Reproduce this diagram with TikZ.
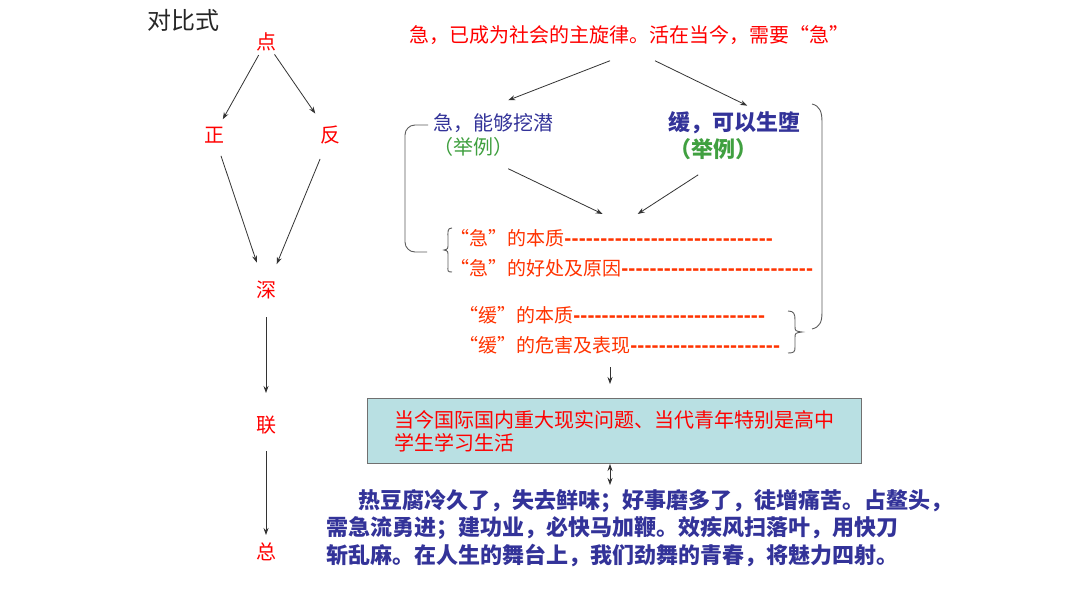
\documentclass[tikz,border=0pt]{standalone}
\usepackage{fontspec}
\setmainfont{Noto Sans CJK SC}
\newfontfamily\dashfont{Liberation Sans}
\usetikzlibrary{arrows.meta,calc}
\definecolor{cred}{HTML}{FF0000}
\definecolor{ored}{HTML}{FF3300}
\definecolor{cblue}{HTML}{333399}
\definecolor{cgreen}{HTML}{40A040}
\definecolor{linegray}{HTML}{333333}
\definecolor{boxfill}{HTML}{B9E0E3}
\definecolor{boxline}{HTML}{707070}
\newcommand{\dashfill}{{\dashfont\bfseries\fontsize{21}{23}\selectfont\xleaders\hbox{-}\hfill}}
\begin{document}
\begin{tikzpicture}[x=1pt,y=-1pt,
  lbl/.style={inner sep=0pt, font=\fontsize{20}{24}\selectfont, text=cred},
  ptxt/.style={inner sep=0pt, font=\fontsize{19}{23}\selectfont, text=ored, anchor=west},
  arr/.style={draw=linegray, line width=0.8pt, -{Stealth[length=7pt,width=5pt]}},
  brk/.style={draw=linegray!80, line width=0.9pt}]
\fill[white] (0,0) rectangle (1080,608);
\useasboundingbox (0,0) rectangle (1080,608);

% title
\node[inner sep=0pt, font=\fontsize{24}{28}\selectfont, text=black!85] (title) at (183,20) {对比式};

% left chain
\node[lbl] (p) at (266,42) {点};
\node[lbl] (zh) at (214,135) {正};
\node[lbl] (fan) at (330,135) {反};
\node[lbl] (shen) at (266,290) {深};
\node[lbl] (lian) at (266,425) {联};
\node[lbl] (zong) at (266,552) {总};
\draw[arr, shorten <=15pt, shorten >=18pt] (p.center) -- (zh.center);
\draw[arr, shorten <=15pt, shorten >=26pt] (p.center) -- (fan.center);
\draw[arr, shorten <=22pt, shorten >=29pt] (zh.center) -- (shen.center);
\draw[arr, shorten <=26pt, shorten >=28pt] (fan.center) -- (shen.center);
\draw[arr, shorten <=27pt, shorten >=32pt] (shen.center) -- (lian.center);
\draw[arr, shorten <=26pt, shorten >=17pt] (lian.center) -- (zong.center);

% top
\node[lbl] (T) at (629,35) {急，已成为社会的主旋律。活在当今，需要“急”};
\node[inner sep=0pt, anchor=west, font=\fontsize{20}{24}\selectfont, text=cblue] (A) at (433,123) {急，能够挖潜};
\node[inner sep=0pt, anchor=west, font=\fontsize{20}{24}\selectfont, text=cgreen] (C) at (433,147) {（举例）};
\node[inner sep=0pt, anchor=west, font=\fontsize{22}{26}\selectfont\bfseries, text=cblue] (B) at (668,123) {缓，可以生堕};
\node[inner sep=0pt, anchor=west, font=\fontsize{22}{26}\selectfont\bfseries, text=cgreen] (D) at (669,149) {（举例）};

\draw[arr] ([xshift=-19pt,yshift=-16pt]T.south) -- ([xshift=15pt,yshift=13pt]A.north);
\draw[arr] ([xshift=26pt,yshift=-16pt]T.south) -- ([xshift=13pt,yshift=6pt]B.north);

% points
\node[ptxt] (E) at (450,238) {\makebox[323pt][l]{“急”的本质\dashfill}};
\node[ptxt] (F) at (450,268) {\makebox[363pt][l]{“急”的好处及原因\dashfill}};
\node[ptxt] (G) at (459,315) {\makebox[306pt][l]{“缓”的本质\dashfill}};
\node[ptxt] (H) at (459,345) {\makebox[321pt][l]{“缓”的危害及表现\dashfill}};

\draw[arr] ([xshift=35pt,yshift=-12pt]C.south) -- ([xshift=-9pt,yshift=15pt]E.north);
\draw[arr] ([xshift=-15pt,yshift=-15pt]D.south) -- ([xshift=26pt,yshift=15pt]E.north);

% brackets
\draw[brk, rounded corners=10pt] (428,125) -- (405,125) -- (405,252) -- (427,252);
\draw[brk] (452,228) .. controls (447,228) and (448,232) .. (448,238) -- (448,244)
  .. controls (448,249) .. (444,250) .. controls (448,251) .. (448,256) -- (448,266)
  .. controls (448,271) and (447,272) .. (452,272);
\draw[brk] (788,311) .. controls (794,311) and (795,314) .. (795,320) -- (795,326)
  .. controls (795,331) .. (802,332) .. controls (795,333) .. (795,338) -- (795,347)
  .. controls (795,352) and (794,353) .. (788,353);
\draw[brk] (812,104) .. controls (820,106) and (822,112) .. (822,122) -- (822,312)
  .. controls (822,322) and (820,327) .. (812,329);

% box
\node[draw=boxline, line width=1pt, fill=boxfill, minimum width=494pt, minimum height=65pt,
  text width=440pt, inner xsep=27pt, align=left, font=\fontsize{20}{23}\selectfont, text=cred]
  (K) at (614,431) {当今国际国内重大现实问题、当代青年特别是高中\\学生学习生活};
\draw[arr] ([xshift=-4pt,yshift=31pt]K.north) -- ([xshift=-4pt,yshift=14pt]K.north);
\draw[arr, {Stealth[length=7pt,width=5pt]}-{Stealth[length=7pt,width=5pt]}] ([xshift=-4pt]K.south) -- ([xshift=-4pt,yshift=-21pt]K.south);

% bottom text
\node[inner sep=0pt, anchor=west, align=left, font=\fontsize{22}{27.5}\selectfont\bfseries, text=cblue] (L) at (326,528)
  {\hspace*{32pt}热豆腐冷久了，失去鲜味；好事磨多了，徒增痛苦。占鳌头，\\
   需急流勇进；建功业，必快马加鞭。效疾风扫落叶，用快刀\\
   斩乱麻。在人生的舞台上，我们劲舞的青春，将魅力四射。};
\end{tikzpicture}
\end{document}
